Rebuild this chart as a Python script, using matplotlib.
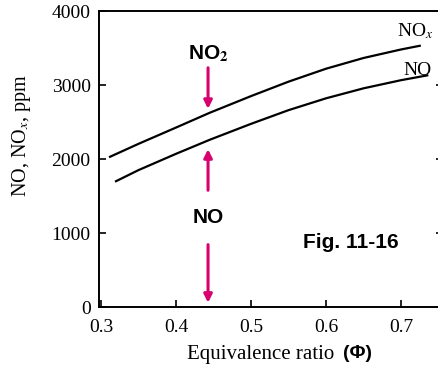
import matplotlib
matplotlib.use("Agg")
import matplotlib.pyplot as plt

plt.rcParams['mathtext.fontset'] = 'stix'

phi_nox = [0.312, 0.35, 0.40, 0.445, 0.50, 0.55, 0.60, 0.65, 0.70, 0.725]
nox_ppm = [2030, 2205, 2425, 2625, 2850, 3045, 3220, 3365, 3480, 3530]
phi_no = [0.320, 0.35, 0.40, 0.445, 0.50, 0.55, 0.60, 0.65, 0.70, 0.735]
no_ppm = [1700, 1850, 2070, 2260, 2475, 2660, 2820, 2955, 3065, 3130]
xticks = [0.3, 0.4, 0.5, 0.6, 0.7]
xtick_labels = ['0.3', '0.4', '0.5', '0.6', '0.7']
yticks = [0, 1000, 2000, 3000, 4000]
ytick_labels = ['0', '1000', '2000', '3000', '4000']

W, H = 439, 371
fig = plt.figure(figsize=(W / 100, H / 100), dpi=100)
ax = fig.add_axes([99 / W, (H - 307) / H, (443 - 99) / W, (307 - 11) / H])

ax.plot(phi_nox, nox_ppm, color='black', lw=1.6, solid_joinstyle='round')
ax.plot(phi_no, no_ppm, color='black', lw=1.6, solid_joinstyle='round')

ax.set_xlim(0.2973, 0.7560)
ax.set_ylim(0, 4000)
ax.set_xticks(xticks)
ax.set_xticklabels(xtick_labels, family='Liberation Serif', fontsize=14)
ax.set_yticks(yticks)
ax.set_yticklabels(ytick_labels, family='Liberation Serif', fontsize=14)
ax.tick_params(direction='in', length=5, width=1.2, right=True)
ax.tick_params(axis='x', pad=9)
ax.tick_params(axis='y', pad=6)
for s in ax.spines.values():
    s.set_linewidth(1.4)

ax.set_ylabel(r'NO, NO$_x$, ppm', family='Liberation Serif', fontsize=14.5)
ax.yaxis.set_label_coords((33 - 99) / 344, (307 - 135) / 296)

# x label: serif part + bold sans part
fig.text(187 / W, 1 - 354 / H, 'Equivalence ratio ', family='Liberation Serif',
         fontsize=15, ha='left', va='center')
fig.text(343 / W, 1 - 354 / H, '(\u03a6)', family='Liberation Sans', fontweight='bold',
         fontsize=14, ha='left', va='center')

# curve labels
ax.text(0.719, 3590, r'NO$_x$', family='Liberation Serif', fontsize=14, ha='center', va='bottom')
ax.text(0.722, 3080, 'NO', family='Liberation Serif', fontsize=14, ha='center', va='bottom')

# annotations
mag = '#d6006e'
xa = 0.4427
ax.text(xa, 3430, r'NO$_\mathbf{2}$', family='Liberation Sans', fontweight='bold',
        fontsize=15, ha='center', va='center')
ax.annotate('', xy=(xa, 2640), xytext=(xa, 3270),
            arrowprops=dict(arrowstyle='-|>', color=mag, lw=2.2, mutation_scale=12))
ax.annotate('', xy=(xa, 2170), xytext=(xa, 1540),
            arrowprops=dict(arrowstyle='-|>', color=mag, lw=2.2, mutation_scale=12))
ax.text(xa, 1210, 'NO', family='Liberation Sans', fontweight='bold',
        fontsize=15, ha='center', va='center')
ax.annotate('', xy=(xa, 20), xytext=(xa, 880),
            arrowprops=dict(arrowstyle='-|>', color=mag, lw=2.2, mutation_scale=12))

ax.text(0.6325, 870, 'Fig. 11-16', family='Liberation Sans', fontweight='bold',
        fontsize=15, ha='center', va='center')

fig.savefig('out.png', dpi=100)
